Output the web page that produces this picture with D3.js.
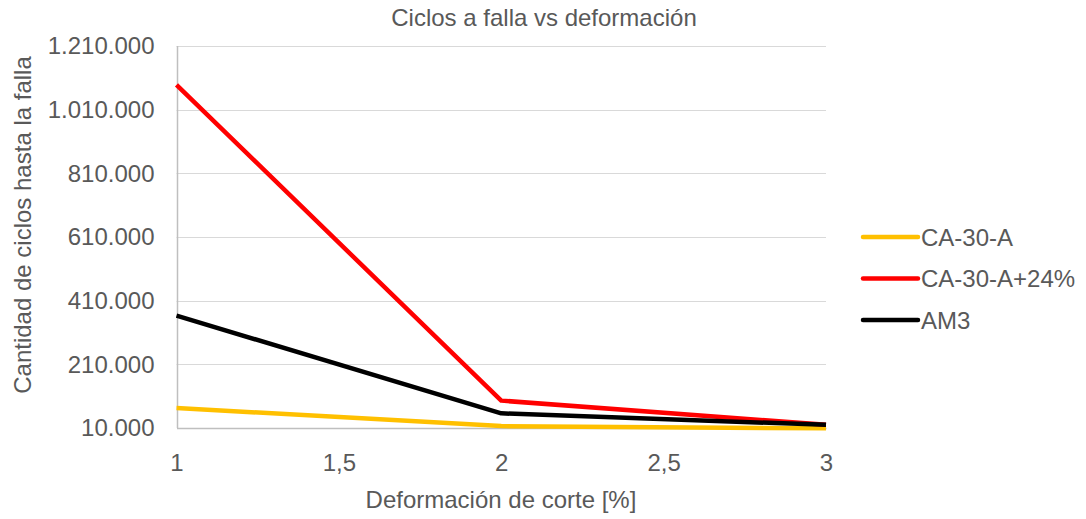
<!DOCTYPE html>
<html>
<head>
<meta charset="utf-8">
<script src="https://cdn.jsdelivr.net/npm/d3@7"></script>
<style>
  html, body { margin: 0; padding: 0; background: #fff; }
  svg { display: block; font-family: "Liberation Sans", Arial, sans-serif; }
</style>
</head>
<body>
<svg id="chart" width="1086" height="519"></svg>
<script>
// Strain levels (%)
const deformacion = [1, 2, 3];
// Cycles to failure per mix
const seriesNames = ["CA-30-A", "CA-30-A+24%", "AM3"];
const ca30a = [73000, 16000, 9000];
const ca30a24 = [1088000, 96000, 20000];
const am3 = [363000, 56000, 20000];
const seriesColors = ["#FFC000", "#FF0000", "#000000"];
const yTicks = [10000, 210000, 410000, 610000, 810000, 1010000, 1210000];
const xTicks = [1, 1.5, 2, 2.5, 3];

const series = [ca30a, ca30a24, am3].map((vals, i) => ({
  name: seriesNames[i],
  color: seriesColors[i],
  points: vals.map((v, j) => ({ x: deformacion[j], y: v }))
}));

const svg = d3.select("#chart");
const margin = { left: 176.5, right: 260, top: 46, bottom: 91 };
const W = 1086, H = 519;
const x = d3.scaleLinear().domain([1, 3]).range([margin.left, W - margin.right]);
const y = d3.scaleLinear().domain([10000, 1210000]).range([H - margin.bottom, margin.top]);

const fmt = v => d3.format(",")(v).replace(/,/g, ".");
const fmtX = v => String(v).replace(".", ",");

// Horizontal gridlines
svg.append("g")
  .selectAll("line")
  .data(yTicks.slice(1))
  .join("line")
  .attr("x1", x(1)).attr("x2", x(3))
  .attr("y1", d => Math.round(y(d)) + 0.5).attr("y2", d => Math.round(y(d)) + 0.5)
  .attr("stroke", "#D9D9D9").attr("stroke-width", 1);

// Y axis (labels only)
const yAxis = svg.append("g")
  .attr("transform", `translate(${x(1)},0)`)
  .call(d3.axisLeft(y).tickValues(yTicks).tickFormat(fmt).tickSize(0).tickPadding(22));
yAxis.select(".domain").remove();
yAxis.selectAll("text").attr("fill", "#595959").attr("font-size", 24);

// Left axis line
svg.append("line")
  .attr("x1", Math.round(x(1)) + 0.5).attr("x2", Math.round(x(1)) + 0.5)
  .attr("y1", y(1210000)).attr("y2", y(10000))
  .attr("stroke", "#BFBFBF").attr("stroke-width", 1.5);

// X axis
const xAxis = svg.append("g")
  .attr("transform", `translate(0,${y(10000)})`)
  .call(d3.axisBottom(x).tickValues(xTicks).tickFormat(fmtX).tickSize(0).tickPadding(26));
xAxis.select(".domain").attr("stroke", "#BFBFBF").attr("stroke-width", 1.5);
xAxis.selectAll("text").attr("fill", "#595959").attr("font-size", 24);

// Series lines
const line = d3.line().x(d => x(d.x)).y(d => y(d.y));
svg.append("g")
  .selectAll("path")
  .data(series)
  .join("path")
  .attr("d", d => line(d.points))
  .attr("fill", "none")
  .attr("stroke", d => d.color)
  .attr("stroke-width", 4.5)
  .attr("stroke-linejoin", "round");

// Title
svg.append("text")
  .attr("x", 544).attr("y", 26)
  .attr("text-anchor", "middle")
  .attr("fill", "#595959").attr("font-size", 24)
  .text("Ciclos a falla vs deformación");

// Axis titles
svg.append("text")
  .attr("x", 501).attr("y", 508)
  .attr("text-anchor", "middle")
  .attr("fill", "#595959").attr("font-size", 24)
  .text("Deformación de corte [%]");

svg.append("text")
  .attr("transform", "translate(31,225) rotate(-90)")
  .attr("text-anchor", "middle")
  .attr("fill", "#595959").attr("font-size", 24)
  .text("Cantidad de ciclos hasta la falla");

// Legend
const legend = svg.append("g")
  .selectAll("g")
  .data(series)
  .join("g")
  .attr("transform", (d, i) => `translate(863,${237 + i * 41.5})`);
legend.append("line")
  .attr("x1", 0).attr("x2", 55)
  .attr("stroke", d => d.color).attr("stroke-width", 4.5).attr("stroke-linecap", "round");
legend.append("text")
  .attr("x", 58).attr("y", 8.5)
  .attr("fill", "#595959").attr("font-size", 24)
  .text(d => d.name);
</script>
</body>
</html>
